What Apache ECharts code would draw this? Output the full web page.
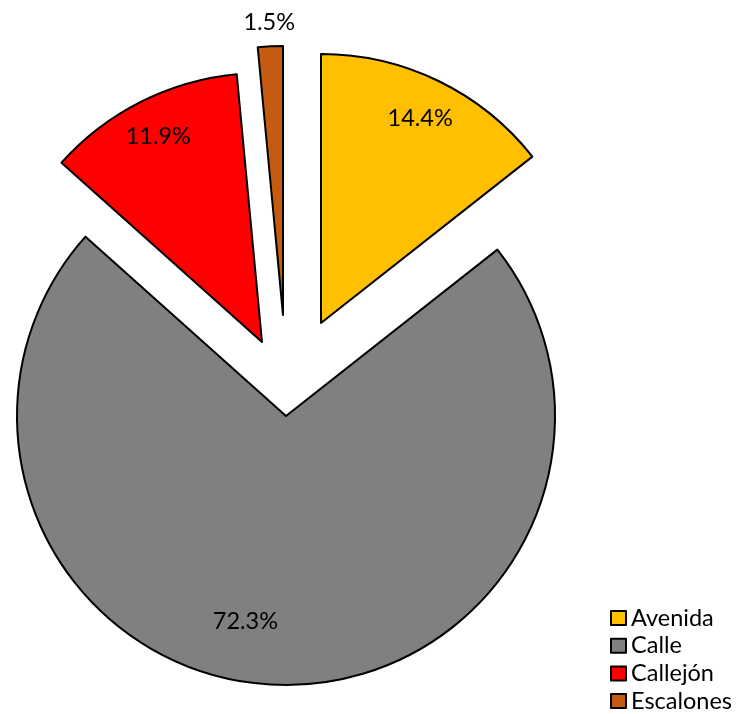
<!DOCTYPE html>
<html>
<head>
<meta charset="utf-8">
<script src="https://cdn.jsdelivr.net/npm/echarts@6/dist/echarts.min.js"></script>
<style>
  html, body { margin: 0; padding: 0; background: #fff; }
  #chart { width: 739px; height: 714px; }
</style>
</head>
<body>
<div id="chart"></div>
<script>
const categories = ['Avenida', 'Calle', 'Callejón', 'Escalones'];
const values = [14.4, 72.3, 11.9, 1.5];
const colors = ['#FFC000', '#808080', '#FF0000', '#C55A11'];

// layout (style) settings: exploded centre of each slice, label distance from it
const sliceCenters = [[321, 323], [286, 416], [262, 342], [283, 315]];
const labelDist = [224, 207, 227, 290];
const labelShift = [[0, 0], [-34, -4], [0, 0], [0, 0]];
const R = 269;
const FONT = 'Lato';
const HIDDEN = { color: 'rgba(255,255,255,0)', borderColor: 'rgba(255,255,255,0)', borderWidth: 0 };

const series = [];
categories.forEach((cat, k) => {
  // slice
  series.push({
    type: 'pie',
    center: sliceCenters[k],
    radius: [0, R],
    startAngle: 90,
    clockwise: true,
    silent: true,
    animation: false,
    label: { show: false },
    labelLine: { show: false },
    data: categories.map((c, i) => ({
      name: c,
      value: values[i],
      itemStyle: i === k
        ? { color: colors[i], borderColor: '#000', borderWidth: 2 }
        : HIDDEN
    }))
  });
  // label
  series.push({
    type: 'pie',
    center: sliceCenters[k],
    radius: [0, labelDist[k] * 2],
    startAngle: 90,
    clockwise: true,
    silent: true,
    animation: false,
    z: 5,
    labelLayout: { dx: labelShift[k][0], dy: labelShift[k][1] },
    labelLine: { show: false },
    data: categories.map((c, i) => ({
      name: c,
      value: values[i],
      itemStyle: HIDDEN,
      label: {
        show: i === k,
        position: 'inside',
        formatter: '{c}%',
        color: '#000',
        fontFamily: FONT,
        fontSize: 23.5
      }
    }))
  });
});

const chart = echarts.init(document.getElementById('chart'));
chart.setOption({
  backgroundColor: '#fff',
  animation: false,
  legend: {
    orient: 'vertical',
    left: 610,
    top: 606,
    width: 129,
    height: 140,
    padding: 0,
    itemWidth: 15,
    itemHeight: 14,
    itemGap: 3.7,
    selectedMode: false,
    icon: 'rect',
    textStyle: { fontFamily: FONT, fontSize: 23.5, color: '#000', lineHeight: 24 },
    data: categories.map((c, i) => ({
      name: c,
      itemStyle: { color: colors[i], borderColor: '#000', borderWidth: 2, opacity: 1 }
    }))
  },
  series: series
});
</script>
</body>
</html>
